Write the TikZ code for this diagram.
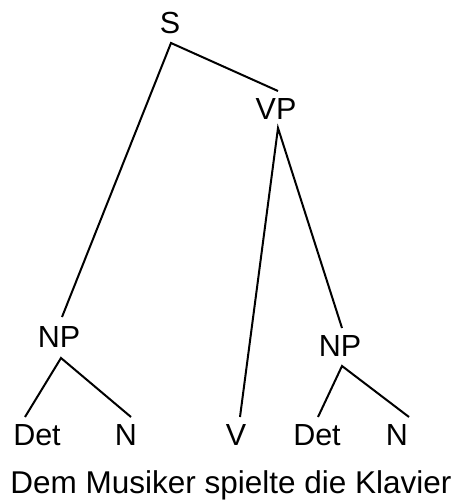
\documentclass[tikz,border=0pt]{standalone}
\usepackage{fontspec}
\setmainfont{Liberation Sans}
\begin{document}
\begin{tikzpicture}[x=1pt,y=-1pt,
  lbl/.style={anchor=base,inner sep=0pt,font=\fontsize{30.5}{36}\selectfont},
  sent/.style={anchor=base,inner sep=0pt,font=\fontsize{31.5}{38}\selectfont},
  edge/.style={draw=black,line width=2pt}]
\useasboundingbox (0,0) rectangle (461,504);
% labels
\node[lbl] (S) at (170,33) {S};
\node[lbl] (VP) at (276,119) {VP};
\node[lbl] (NPl) at (59,347) {NP};
\node[lbl] (NPr) at (340,356) {NP};
\node[lbl] (Detl) at (37,445) {Det};
\node[lbl] (Nl) at (126,445) {N};
\node[lbl] (V) at (236,445) {V};
\node[lbl] (Detr) at (317,445) {Det};
\node[lbl] (Nr) at (397,445) {N};
\node[sent] (sentence) at (231,493) {Dem Musiker spielte die Klavier};
% connector ends
\coordinate (S-b) at (171,43);
\coordinate (VP-t) at (278,91);
\coordinate (VP-b) at (278,128);
\coordinate (NPl-t) at (62,317);
\coordinate (NPl-b) at (61,358);
\coordinate (NPr-t) at (342,328);
\coordinate (NPr-b) at (342,366);
\coordinate (V-t) at (240,417);
\coordinate (Detl-t) at (25,417);
\coordinate (Nl-t) at (131,417);
\coordinate (Detr-t) at (318,417);
\coordinate (Nr-t) at (409,417);
% edges
\draw[edge] (NPl-t) -- (S-b) -- (VP-t);
\draw[edge] (V-t) -- (VP-b) -- (NPr-t);
\draw[edge] (Detl-t) -- (NPl-b) -- (Nl-t);
\draw[edge] (Detr-t) -- (NPr-b) -- (Nr-t);
\end{tikzpicture}
\end{document}
